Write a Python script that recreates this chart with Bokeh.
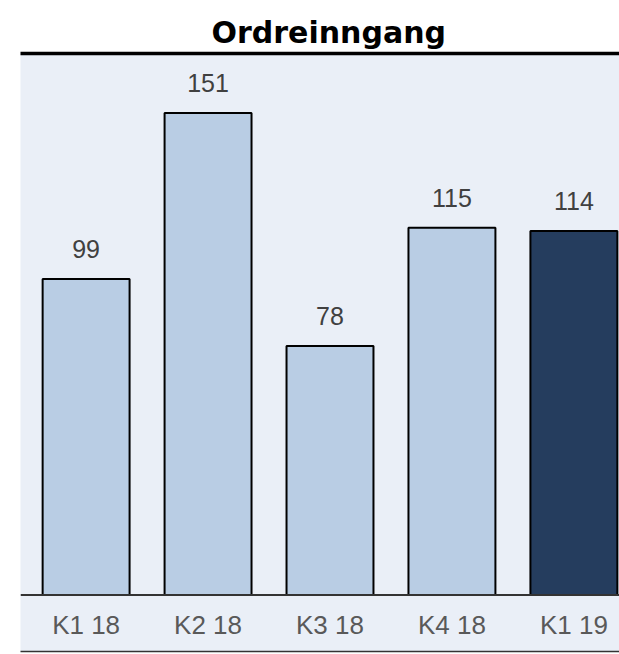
from bokeh.plotting import figure
from bokeh.models import Range1d, LinearAxis, FixedTicker, Span, ColumnDataSource
from bokeh.core.properties import value
from bokeh.embed import file_html
from bokeh.resources import INLINE

# ---- data ----
categories = ["K1 18", "K2 18", "K3 18", "K4 18", "K1 19"]
values = [99, 151, 78, 115, 114]
title_text = "Ordreinngang"

# ---- styles ----
PANEL = "#EAEFF7"
LIGHT = "#B9CDE4"
DARK = "#253D5E"

positions = list(range(len(categories)))
colors = [DARK if i == len(categories) - 1 else LIGHT for i in positions]
src = ColumnDataSource(dict(x=positions, top=values, cat=categories,
                            label=[str(v) for v in values], color=colors,
                            zero=[0] * len(values)))

p = figure(width=619, height=654,
           x_range=Range1d(-0.538, 4.374), y_range=Range1d(-17.7, 169.6),
           x_axis_location=None, y_axis_location=None,
           output_backend="svg", toolbar_location=None,
           min_border_left=20, min_border_right=0, min_border_top=53,
           min_border_bottom=3)

p.background_fill_color = PANEL
p.border_fill_color = "white"
p.outline_line_color = None
p.grid.visible = False

p.title.text = title_text
p.title.text_font = "DejaVu Sans"
p.title.text_font_style = "bold"
p.title.text_font_size = "30px"
p.title.text_color = "black"
p.title.align = "left"
p.title.offset = 191
p.title.standoff = 7

# top thick rule
top_axis = LinearAxis(ticker=FixedTicker(ticks=[]), axis_line_color="black",
                      axis_line_width=3.5, major_tick_line_color=None,
                      minor_tick_line_color=None, major_label_text_font_size="0px",
                      major_label_standoff=0, major_tick_out=0, minor_tick_out=0)
p.add_layout(top_axis, "above")

# bottom thin rule
bot_axis = LinearAxis(ticker=FixedTicker(ticks=[]), axis_line_color="#333333",
                      axis_line_width=1.5, major_tick_line_color=None,
                      minor_tick_line_color=None, major_label_text_font_size="0px",
                      major_label_standoff=0, major_tick_out=0, minor_tick_out=0)
p.add_layout(bot_axis, "below")

p.vbar(x="x", top="top", bottom=0, width=0.713, source=src,
       fill_color="color", line_color="black", line_width=2)

p.add_layout(Span(location=0, dimension="width", line_color="#333333",
                  line_width=2))

p.text(x="x", y="top", text="label", source=src,
       text_font=value("Liberation Sans"), text_font_size="25px",
       text_color="#404040", text_align="center", text_baseline="middle",
       y_offset=-30)

p.text(x="x", y="zero", text="cat", source=src,
       text_font=value("Liberation Sans"), text_font_size="26px",
       text_color="#595959", text_align="center", text_baseline="middle",
       y_offset=30)

open("out.html", "w").write(file_html(p, INLINE))
